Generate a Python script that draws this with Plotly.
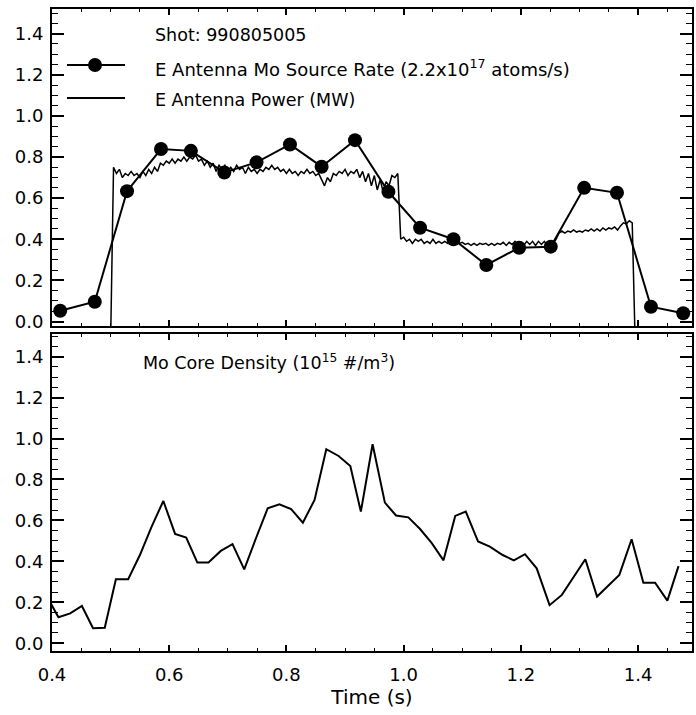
import plotly.graph_objects as go
from plotly.subplots import make_subplots

# Mo source rate (E antenna), 2.2e17 atoms/s units
src_t = [0.414, 0.473, 0.528, 0.586, 0.637, 0.694, 0.749, 0.806, 0.860, 0.917,
         0.974, 1.028, 1.085, 1.141, 1.197, 1.251, 1.308, 1.364, 1.422, 1.477]
src_v = [0.052, 0.096, 0.634, 0.839, 0.830, 0.725, 0.774, 0.861, 0.753, 0.882,
         0.631, 0.456, 0.400, 0.275, 0.359, 0.364, 0.650, 0.626, 0.072, 0.040]

# E antenna power (MW), sampled every 5 ms from t = 0.500 s
pow_t0 = 0.500
pow_dt = 0.005
pow_v = [
    -0.1, 0.75, 0.72, 0.74, 0.70, 0.72, 0.71, 0.73, 0.71, 0.72,
    0.70, 0.73, 0.71, 0.74, 0.72, 0.75, 0.73, 0.77, 0.76, 0.78,
    0.77, 0.79, 0.77, 0.79, 0.78, 0.80, 0.78, 0.80, 0.79, 0.81,
    0.78, 0.79, 0.76, 0.78, 0.75, 0.77, 0.73, 0.76, 0.74, 0.76,
    0.73, 0.75, 0.73, 0.76, 0.74, 0.75, 0.72, 0.75, 0.73, 0.74,
    0.72, 0.74, 0.73, 0.75, 0.74, 0.76, 0.74, 0.75, 0.73, 0.74,
    0.72, 0.74, 0.72, 0.73, 0.71, 0.73, 0.72, 0.74, 0.72, 0.73,
    0.71, 0.72, 0.69, 0.66, 0.70, 0.68, 0.72, 0.71, 0.73, 0.72,
    0.74, 0.71, 0.73, 0.72, 0.74, 0.70, 0.73, 0.68, 0.72, 0.66,
    0.71, 0.64, 0.69, 0.63, 0.68, 0.66, 0.71, 0.70, 0.72, 0.40,
    0.41, 0.39, 0.40, 0.38, 0.40, 0.39, 0.40, 0.38, 0.39, 0.38,
    0.40, 0.38, 0.39, 0.38, 0.39, 0.38, 0.39, 0.38, 0.39, 0.38,
    0.385, 0.375, 0.38, 0.37, 0.38, 0.37, 0.38, 0.375, 0.38, 0.37,
    0.38, 0.37, 0.38, 0.375, 0.385, 0.37, 0.385, 0.375, 0.39, 0.375,
    0.385, 0.37, 0.39, 0.375, 0.39, 0.37, 0.39, 0.375, 0.39, 0.37,
    0.39, 0.38, 0.40, 0.43, 0.44, 0.43, 0.44, 0.435, 0.445, 0.435,
    0.44, 0.435, 0.445, 0.44, 0.45, 0.44, 0.45, 0.44, 0.455, 0.445,
    0.455, 0.45, 0.46, 0.445, 0.465, 0.48, 0.475, 0.49, 0.48, -0.1,
]

# Mo core density (1e15 #/m^3)
dens_t = [0.391, 0.411, 0.431, 0.451, 0.470, 0.490, 0.509, 0.530, 0.550, 0.570,
          0.590, 0.610, 0.629, 0.648, 0.667, 0.688, 0.708, 0.728, 0.748, 0.768,
          0.788, 0.808, 0.828, 0.848, 0.868, 0.889, 0.909, 0.927, 0.947, 0.968,
          0.987, 1.008, 1.028, 1.048, 1.068, 1.088, 1.106, 1.127, 1.147, 1.169,
          1.188, 1.207, 1.227, 1.249, 1.270, 1.290, 1.310, 1.330, 1.349, 1.368,
          1.389, 1.409, 1.429, 1.450, 1.469]
dens_v = [0.23, 0.127, 0.146, 0.182, 0.073, 0.076, 0.313, 0.313, 0.431, 0.570,
          0.695, 0.534, 0.516, 0.394, 0.394, 0.451, 0.484, 0.361, 0.513, 0.659,
          0.679, 0.655, 0.589, 0.700, 0.948, 0.915, 0.866, 0.643, 0.972, 0.687,
          0.624, 0.615, 0.558, 0.489, 0.405, 0.622, 0.643, 0.497, 0.472, 0.431,
          0.405, 0.435, 0.366, 0.186, 0.236, 0.326, 0.410, 0.228, 0.280, 0.334,
          0.508, 0.296, 0.296, 0.208, 0.377]

FONT = "DejaVu Sans"

fig = make_subplots(rows=2, cols=1, shared_xaxes=True, vertical_spacing=0.0124)

fig.add_trace(go.Scatter(x0=pow_t0, dx=pow_dt, y=pow_v, mode="lines",
                         line=dict(color="black", width=1.5),
                         name="E Antenna Power (MW)"), row=1, col=1)
fig.add_trace(go.Scatter(x=src_t, y=src_v, mode="lines+markers",
                         line=dict(color="black", width=2),
                         marker=dict(color="black", size=14),
                         cliponaxis=False,
                         name="E Antenna Mo Source Rate"), row=1, col=1)
fig.add_trace(go.Scatter(x=dens_t, y=dens_v, mode="lines",
                         line=dict(color="black", width=2),
                         name="Mo Core Density"), row=2, col=1)

axis_style = dict(showline=True, linecolor="black", linewidth=2, mirror="ticks",
                  ticks="inside", tickcolor="black", tickwidth=1.5,
                  showgrid=False, zeroline=False, tickformat=".1f",
                  automargin=False,
                  tickfont=dict(family=FONT, size=18, color="black"))

xstyle = dict(axis_style, range=[0.4, 1.492], tick0=0.4, dtick=0.2, ticklen=6,
              minor=dict(ticks="inside", dtick=0.05, ticklen=3,
                         tickcolor="black", tickwidth=1.2))
ystyle = dict(axis_style, tick0=0, dtick=0.2, ticklen=12, ticklabelstandoff=3,
              minor=dict(ticks="inside", dtick=0.05, ticklen=6,
                         tickcolor="black", tickwidth=1.2))

fig.update_xaxes(**xstyle)
fig.update_xaxes(showticklabels=False, row=1, col=1)
fig.update_xaxes(ticklabelstandoff=6,
                 title=dict(text="Time (s)", standoff=6,
                            font=dict(family=FONT, size=20, color="black")),
                 row=2, col=1)
fig.update_yaxes(**ystyle)
fig.update_layout(
    yaxis=dict(domain=[0.5062, 1.0], range=[-0.022, 1.52]),
    yaxis2=dict(domain=[0.0, 0.4938], range=[-0.038, 1.511]),
)

# legend drawn by hand, like the original
txt = dict(family=FONT, size=17.5, color="black")
notes = [
    (0.1578, 0.9595, "Shot: 990805005", 17.5),
    (0.1578, 0.9081, "E Antenna Mo Source Rate (2.2x10<sup>17</sup> atoms/s)", 18),
    (0.1578, 0.8583, "E Antenna Power (MW)", 17.5),
    (0.139, 0.4502, "Mo Core Density (10<sup>15</sup> #/m<sup>3</sup>)", 17.5),
]
for nx, ny, s, fs in notes:
    fig.add_annotation(x=nx, y=ny, xref="paper", yref="paper", text=s,
                       showarrow=False, xanchor="left", yanchor="middle",
                       font=dict(txt, size=fs))

fig.add_shape(type="line", xref="paper", yref="paper", x0=0.0234, x1=0.1141,
              y0=0.9128, y1=0.9128, line=dict(color="black", width=2))
fig.add_shape(type="circle", xref="paper", yref="paper", xsizemode="pixel",
              ysizemode="pixel", xanchor=0.0672, yanchor=0.9128,
              x0=-7, x1=7, y0=-7, y1=7, fillcolor="black",
              line=dict(color="black", width=0))
fig.add_shape(type="line", xref="paper", yref="paper", x0=0.0234, x1=0.1141,
              y0=0.8614, y1=0.8614, line=dict(color="black", width=2))

fig.update_layout(
    width=696, height=715,
    margin=dict(l=52, r=4, t=9, b=64),
    paper_bgcolor="white", plot_bgcolor="white",
    showlegend=False,
    font=dict(family=FONT, color="black"),
)

# page margin off so the figure sits at the window's corner
fig.write_html("out.html", config={"displayModeBar": False},
               post_script="document.body.style.margin='0';"
               "document.body.style.overflow='hidden';")
